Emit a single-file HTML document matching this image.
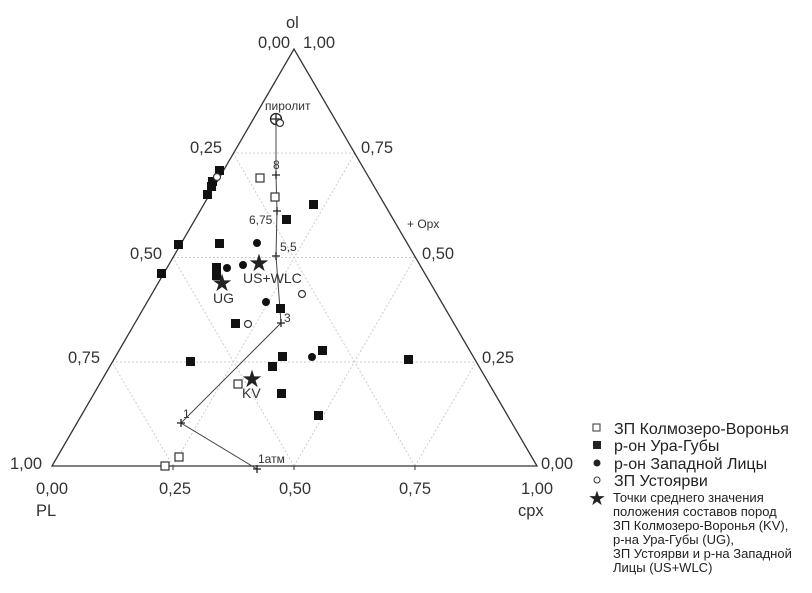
<!DOCTYPE html><html><head><meta charset="utf-8"><style>body{margin:0;background:#fff}svg{display:block;font-family:"Liberation Sans",sans-serif}</style></head><body>
<svg width="812" height="593" viewBox="0 0 812 593">
<g stroke="#ccc" stroke-width="1" stroke-dasharray="2,2" fill="none">
<line x1="112" y1="362" x2="476" y2="362"/><line x1="173" y1="257.5" x2="415" y2="257.5"/><line x1="233" y1="153" x2="355" y2="153"/>
<line x1="173" y1="466" x2="355" y2="153"/><line x1="294" y1="466" x2="415" y2="257.5"/><line x1="415" y1="466" x2="476" y2="362"/>
<line x1="415" y1="466" x2="233" y2="153"/><line x1="294" y1="466" x2="173" y2="257.5"/><line x1="173" y1="466" x2="112" y2="362"/>
</g>
<polygon points="52,466 537,466 294,49" fill="none" stroke="#333" stroke-width="1.3"/>
<g stroke="#333" stroke-width="1"><line x1="173" y1="466" x2="173" y2="470"/><line x1="294" y1="466" x2="294" y2="470"/><line x1="415" y1="466" x2="415" y2="470"/></g>
<g font-size="16.5" fill="#333">
<text x="258" y="48">0,00</text><text x="303" y="48">1,00</text>
<text x="190" y="153">0,25</text><text x="361" y="153">0,75</text>
<text x="130" y="259">0,50</text><text x="422" y="259">0,50</text>
<text x="68" y="363">0,75</text><text x="482" y="363">0,25</text>
<text x="10" y="469">1,00</text><text x="541" y="469">0,00</text>
<g text-anchor="middle"><text x="52" y="494">0,00</text><text x="175" y="494">0,25</text><text x="295" y="494">0,50</text><text x="415" y="494">0,75</text><text x="537" y="494">1,00</text></g>
<text x="36" y="516">PL</text><text x="518" y="516">cpx</text><text x="286" y="28">ol</text>
</g>
<polyline points="276,119 276,175 277,211 276,256 281,323 181,423 257,469" fill="none" stroke="#444" stroke-width="1"/>
<g stroke="#222" stroke-width="1.3">
<path d="M272,175h8M276,171v8M273,211h8M277,207v8M272,256h8M276,252v8M277,323h8M281,319v8M177,423h8M181,419v8M253,469h8M257,465v8"/>
<circle cx="276" cy="119" r="5.5" fill="none"/><path d="M270,119h12M276,113v12"/>
</g>
<g font-size="12" fill="#333"><text x="265" y="110">пиролит</text><text x="273" y="169">8</text><text x="249" y="224">6,75</text><text x="280" y="251">5,5</text><text x="284" y="322">3</text><text x="183" y="418">1</text><text x="258" y="463">1атм</text><text x="407" y="228">+ Opx</text></g>
<g fill="#111">
<rect x="215" y="166" width="9" height="9"/><rect x="208" y="177" width="9" height="9"/><rect x="207" y="182" width="9" height="9"/><rect x="203" y="190" width="9" height="9"/><rect x="174" y="240" width="9" height="9"/><rect x="157" y="269" width="9" height="9"/><rect x="215" y="239" width="9" height="9"/><rect x="212" y="263" width="9" height="9"/><rect x="212" y="271" width="9" height="9"/><rect x="309" y="200" width="9" height="9"/><rect x="282" y="215" width="9" height="9"/><rect x="276" y="304" width="9" height="9"/><rect x="231" y="319" width="9" height="9"/><rect x="186" y="357" width="9" height="9"/><rect x="278" y="352" width="9" height="9"/><rect x="268" y="362" width="9" height="9"/><rect x="277" y="389" width="9" height="9"/><rect x="314" y="411" width="9" height="9"/><rect x="318" y="346" width="9" height="9"/><rect x="404" y="355" width="9" height="9"/>
<circle cx="257" cy="243" r="4"/><circle cx="243" cy="265" r="4"/><circle cx="227" cy="268" r="4"/><circle cx="266" cy="302" r="4"/><circle cx="312" cy="357" r="4"/>
</g>
<g fill="#fff" stroke="#333" stroke-width="1.2"><rect x="256" y="174" width="8" height="8"/><rect x="271" y="193" width="8" height="8"/><rect x="234" y="380" width="8" height="8"/><rect x="161" y="462" width="8" height="8"/><rect x="175" y="453" width="8" height="8"/>
<circle cx="280" cy="123" r="3.5"/><circle cx="302" cy="294" r="3.5"/><circle cx="248" cy="324" r="3.5"/><circle cx="217" cy="177" r="3.5"/></g>
<g font-size="24" fill="#222" text-anchor="middle"><text x="259" y="271">★</text><text x="222" y="291">★</text><text x="252" y="387">★</text></g>
<g font-size="14" fill="#333"><text x="243" y="283">US+WLC</text><text x="213" y="303">UG</text><text x="242" y="398">KV</text></g>
<g fill="#222"><rect x="593" y="424" width="7" height="7" fill="#fff" stroke="#333"/><rect x="593" y="441" width="8" height="8"/><circle cx="597" cy="463" r="3.5"/><circle cx="597" cy="480" r="3" fill="#fff" stroke="#333"/><text x="597" y="505" font-size="20" text-anchor="middle">★</text></g>
<g font-size="16" fill="#222"><text x="614" y="434">ЗП Колмозеро-Воронья</text><text x="614" y="451">р-он Ура-Губы</text><text x="614" y="469">р-он Западной Лицы</text><text x="614" y="486">ЗП Устоярви</text></g>
<g font-size="13" fill="#222"><text x="613" y="502">Точки среднего значения</text><text x="613" y="516">положения составов пород</text><text x="613" y="530">ЗП Колмозеро-Воронья (KV),</text><text x="613" y="544">р-на Ура-Губы (UG),</text><text x="613" y="558">ЗП Устоярви и р-на Западной</text><text x="613" y="572">Лицы (US+WLC)</text></g>
</svg></body></html>
